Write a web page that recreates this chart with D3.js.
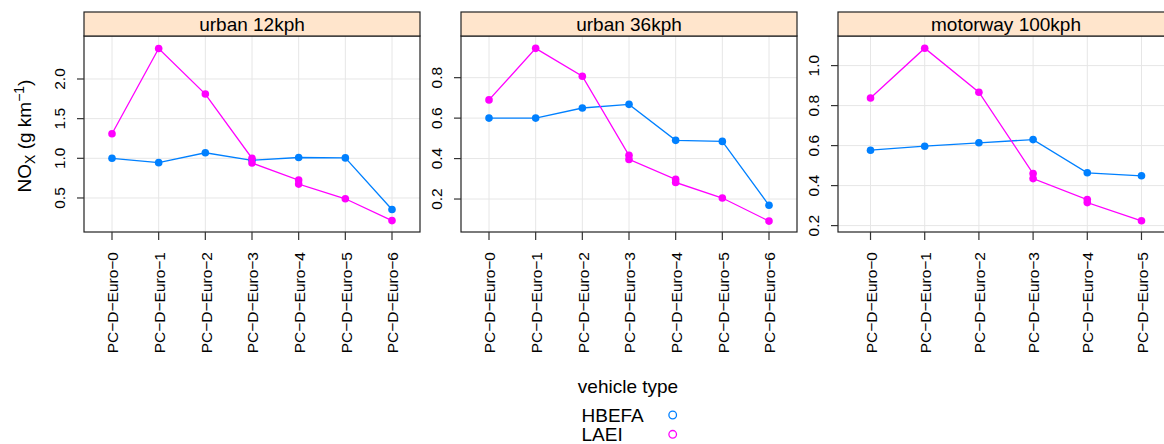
<!DOCTYPE html>
<html>
<head>
<meta charset="utf-8">
<script src="https://cdn.jsdelivr.net/npm/d3@7"></script>
<style>
  body { margin: 0; background: #fff; }
  svg { font-family: "Liberation Sans", Arial, sans-serif; }
</style>
</head>
<body>
<svg id="chart" width="1164" height="444"></svg>
<script>
// categories
const euro7 = ["PC-D-Euro-0", "PC-D-Euro-1", "PC-D-Euro-2", "PC-D-Euro-3", "PC-D-Euro-4", "PC-D-Euro-5", "PC-D-Euro-6"];
const euro6 = euro7.slice(0, 6);

// panel titles
const panelTitles = ["urban 12kph", "urban 36kph", "motorway 100kph"];

// HBEFA, one value per category
const hbefa12 = [1.0, 0.945, 1.07, 0.975, 1.01, 1.005, 0.355];
const hbefa36 = [0.6, 0.6, 0.65, 0.668, 0.49, 0.485, 0.169];
const hbefa100 = [0.577, 0.597, 0.614, 0.63, 0.464, 0.449];

// LAEI, Euro-3 and Euro-4 have two values each
const laeiCats7 = ["PC-D-Euro-0", "PC-D-Euro-1", "PC-D-Euro-2", "PC-D-Euro-3", "PC-D-Euro-3", "PC-D-Euro-4", "PC-D-Euro-4", "PC-D-Euro-5", "PC-D-Euro-6"];
const laeiCats6 = laeiCats7.slice(0, 8);
const laei12 = [1.31, 2.385, 1.81, 1.0, 0.94, 0.725, 0.675, 0.49, 0.215];
const laei36 = [0.69, 0.945, 0.807, 0.416, 0.396, 0.297, 0.282, 0.205, 0.091];
const laei100 = [0.838, 1.087, 0.867, 0.46, 0.435, 0.33, 0.315, 0.224];

// y axis ticks and limits per panel
const yTicks12 = [0.5, 1.0, 1.5, 2.0];
const yTicks36 = [0.2, 0.4, 0.6, 0.8];
const yTicks100 = [0.2, 0.4, 0.6, 0.8, 1.0];
const yLim12 = [0.071, 2.542];
const yLim36 = [0.037, 1.006];
const yLim100 = [0.168, 1.148];

const seriesNames = ["HBEFA", "LAEI"];
const colors = ["#0080ff", "#ff00ff"];

const panels = [
    {title: panelTitles[0], cats: euro7, hb: hbefa12, lc: laeiCats7, lv: laei12, ticks: yTicks12, lim: yLim12},
    {title: panelTitles[1], cats: euro7, hb: hbefa36, lc: laeiCats7, lv: laei36, ticks: yTicks36, lim: yLim36},
    {title: panelTitles[2], cats: euro6, hb: hbefa100, lc: laeiCats6, lv: laei100, ticks: yTicks100, lim: yLim100}
];

let svg = d3.select("#chart");

let lefts = [84, 461, 838],
    panelW = 336,
    stripTop = 12,
    plotTop = 36,
    plotBottom = 232;

let minus = s => s.replace(/-/g, "\u2212");

panels.forEach(function(p, i) {
    let left = lefts[i], right = left + panelW;
    let g = svg.append("g");

    let x = d3.scalePoint().domain(p.cats).range([left, right]).padding(0.6);
    let y = d3.scaleLinear().domain(p.lim).range([plotBottom, plotTop]);

    // grid
    g.selectAll("line.vgrid").data(p.cats).enter().append("line")
        .attr("x1", d => x(d)).attr("x2", d => x(d))
        .attr("y1", plotTop).attr("y2", plotBottom)
        .attr("stroke", "#e6e6e6").attr("stroke-width", 1);
    g.selectAll("line.hgrid").data(p.ticks).enter().append("line")
        .attr("x1", left).attr("x2", right)
        .attr("y1", d => y(d)).attr("y2", d => y(d))
        .attr("stroke", "#e6e6e6").attr("stroke-width", 1);

    // lines and points
    let line = d3.line().x(d => x(d[0])).y(d => y(d[1]));
    let hbPts = p.cats.map((c, j) => [c, p.hb[j]]);
    let laPts = p.lc.map((c, j) => [c, p.lv[j]]);
    [hbPts, laPts].forEach(function(pts, k) {
        g.append("path").attr("d", line(pts))
            .attr("fill", "none").attr("stroke", colors[k]).attr("stroke-width", 1.3);
        g.selectAll(null).data(pts).enter().append("circle")
            .attr("cx", d => x(d[0])).attr("cy", d => y(d[1]))
            .attr("r", 3.8).attr("fill", colors[k]);
    });

    // panel box
    g.append("rect").attr("x", left).attr("y", plotTop)
        .attr("width", panelW).attr("height", plotBottom - plotTop)
        .attr("fill", "none").attr("stroke", "#222").attr("stroke-width", 1.2);

    // strip
    g.append("rect").attr("x", left).attr("y", stripTop)
        .attr("width", panelW).attr("height", plotTop - stripTop)
        .attr("fill", "#ffe5cc").attr("stroke", "#222").attr("stroke-width", 1.2);
    g.append("text").attr("x", left + panelW / 2).attr("y", (stripTop + plotTop) / 2)
        .attr("dy", "0.36em").attr("text-anchor", "middle")
        .attr("font-size", 19).attr("fill", "#000").text(p.title);

    // y ticks
    g.selectAll("line.ytick").data(p.ticks).enter().append("line")
        .attr("x1", left - 7).attr("x2", left)
        .attr("y1", d => y(d)).attr("y2", d => y(d))
        .attr("stroke", "#333").attr("stroke-width", 1.2);
    g.selectAll("text.ylab").data(p.ticks).enter().append("text")
        .attr("transform", d => "translate(" + (left - 19) + "," + y(d) + ") rotate(-90)")
        .attr("text-anchor", "middle").attr("font-size", 15.5)
        .text(d => d3.format(".1f")(d));

    // x ticks
    g.selectAll("line.xtick").data(p.cats).enter().append("line")
        .attr("x1", d => x(d)).attr("x2", d => x(d))
        .attr("y1", plotBottom).attr("y2", plotBottom + 8)
        .attr("stroke", "#333").attr("stroke-width", 1.2);
    g.selectAll("text.xlab").data(p.cats).enter().append("text")
        .attr("transform", d => "translate(" + x(d) + "," + 252 + ") rotate(-90)")
        .attr("text-anchor", "end").attr("dy", "0.4em").attr("font-size", 15.5)
        .text(d => minus(d));
});

// y axis title
let yt = svg.append("text")
    .attr("transform", "translate(31," + 136 + ") rotate(-90)")
    .attr("text-anchor", "middle").attr("font-size", 19);
yt.append("tspan").text("NO");
yt.append("tspan").attr("font-size", 14).attr("dy", 4).text("X");
yt.append("tspan").attr("dy", -4).text(" (g km");
yt.append("tspan").attr("font-size", 14).attr("dy", -7).text("\u22121");
yt.append("tspan").attr("dy", 7).text(")");

// legend
let leg = svg.append("g");
leg.append("text").attr("x", 628).attr("y", 393)
    .attr("text-anchor", "middle").attr("font-size", 19).text("vehicle type");
seriesNames.forEach(function(s, k) {
    let yy = 415 + k * 19.3;
    leg.append("text").attr("x", 581.5).attr("y", yy).attr("dy", "0.36em")
        .attr("font-size", 19).text(s);
    leg.append("circle").attr("cx", 672.7).attr("cy", yy).attr("r", 3.8)
        .attr("fill", "none").attr("stroke", colors[k]).attr("stroke-width", 1.3);
});
</script>
</body>
</html>
